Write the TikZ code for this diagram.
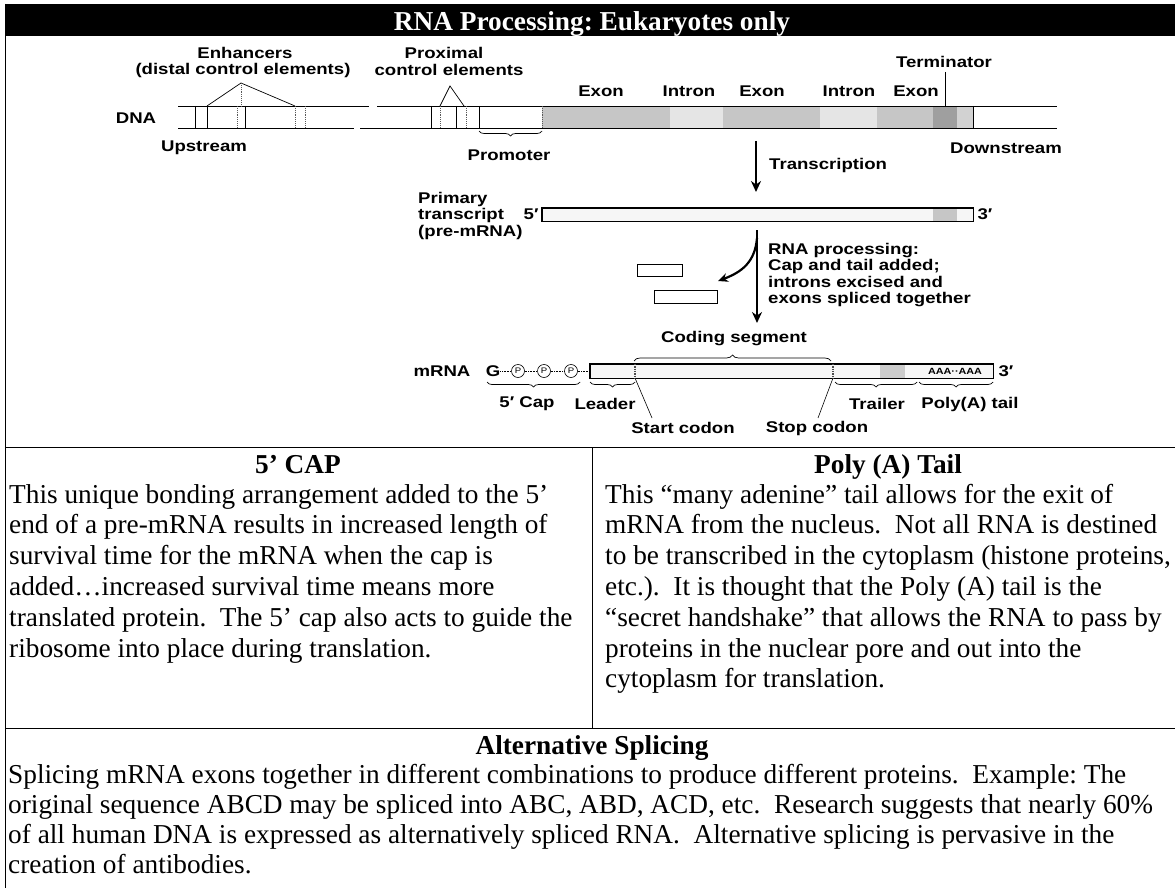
\documentclass[tikz,border=0pt]{standalone}
\usepackage{fontspec}
\setmainfont{Liberation Serif}
\newfontfamily\labfont[FakeStretch=1.2]{Liberation Sans}
\usetikzlibrary{arrows.meta,decorations.pathreplacing,calc}
\frenchspacing
\begin{document}
\begin{tikzpicture}[x=1pt,y=-1pt,
  lab/.style={font=\labfont\bfseries\fontsize{15.5}{16.3}\selectfont, inner sep=0pt},
  small/.style={font=\labfont\bfseries\fontsize{9}{9}\selectfont, inner sep=0pt},
  body/.style={font=\fontsize{27.3}{30}\selectfont, inner sep=0pt, anchor=base west},
  head/.style={font=\bfseries\fontsize{27.3}{30}\selectfont, inner sep=0pt, anchor=base},
  rule/.style={line width=0.8pt},
  dnaline/.style={line width=0.9pt},
  bar/.style={line width=0.7pt},
  dotbar/.style={line width=0.9pt, densely dotted, gray!70!black},
  bigarrow/.style={line width=2.6pt, -{Stealth[length=11pt,width=10pt]}},
  bracedown/.style={decorate, decoration={brace, mirror, amplitude=5pt}, line width=0.7pt},
  braceup/.style={decorate, decoration={brace, amplitude=6pt}, line width=0.7pt},
  pcirc/.style={circle, draw, line width=0.6pt, minimum size=13pt, inner sep=0pt, font=\labfont\fontsize{8}{8}\selectfont},
  piece/.style={draw, line width=0.6pt, inner sep=0pt}
]
\useasboundingbox (0,0) rectangle (1175,888);
\fill[white] (0,0) rectangle (1175,888);

% ---------- header ----------
\fill[black] (5,4) rectangle (1175,36);
\node[head, text=white] (title) at (592,31) {RNA Processing: Eukaryotes only};

% ---------- table rules ----------
\draw[rule] (5,4) -- (5,888);
\draw[rule] (5,447) -- (1175,447);
\draw[rule] (5,728) -- (1175,728);
\draw[rule] (592,447) -- (592,728);

% ---------- DNA ----------
\fill[gray!45] (542,106) rectangle (670,128);
\fill[gray!20] (670,106) rectangle (723,128);
\fill[gray!45] (723,106) rectangle (820,128);
\fill[gray!20] (820,106) rectangle (877,128);
\fill[gray!45] (877,106) rectangle (933,128);
\fill[gray!75] (933,106) rectangle (957,128);
\fill[gray!35] (957,106) rectangle (973,128);
\draw[dnaline] (178,106) -- (369,106) (377,106) -- (1057,106);
\draw[dnaline] (178,128) -- (354,128) (360,128) -- (1057,128);
\draw[bar] (973,106) -- (973,128);
\draw[bar] (195,106) -- (195,128);
\draw[bar] (207,106) -- (207,128);
\draw[dotbar] (237,106) -- (237,128);
\draw[bar] (245,106) -- (245,128);
\draw[dotbar] (295,106) -- (295,128);
\draw[dotbar] (305,106) -- (305,128);
\draw[bar] (431,106) -- (431,128);
\draw[dotbar] (440,106) -- (440,128);
\draw[bar] (456,106) -- (456,128);
\draw[dotbar] (466,106) -- (466,128);
\draw[bar] (479,106) -- (479,128);
\draw[dotbar] (542,106) -- (542,128);

% enhancer / proximal triangles
\draw[line width=0.7pt] (207,106) -- (241,83) -- (295,106);
\draw[dotbar] (241,83) -- (241,106);
\draw[line width=0.7pt] (440,106) -- (450,86) -- (464,106);

% DNA labels
\node[lab] (enh1) at (245,53) {Enhancers};
\node[lab] (enh2) at (243,70) {(distal control elements)};
\node[lab] (prox1) at (444,53) {Proximal};
\node[lab] (prox2) at (449,70) {control elements};
\node[lab] (dna) at (136,118) {DNA};
\node[lab] (up) at (204,148) {Upstream};
\node[lab] (down) at (1006,148) {Downstream};
\node[lab] (prom) at (509,155) {Promoter};
\draw[bracedown] (479,131) -- (542,131);
\node[lab] (term) at (944,62) {Terminator};
\coordinate (termpt) at (945,106);
\draw[line width=0.8pt] (945,72) -- (termpt);
\node[lab] (ex1) at (601,91) {Exon};
\node[lab] (in1) at (689,91) {Intron};
\node[lab] (ex2) at (762,91) {Exon};
\node[lab] (in2) at (849,91) {Intron};
\node[lab] (ex3) at (916,91) {Exon};

% transcription arrow
\coordinate (tA) at (756,141);
\coordinate (tB) at (756,192);
\draw[bigarrow] (tA) -- (tB);
\node[lab, anchor=west] (trans) at (769,165) {Transcription};

% primary transcript
\node[lab, anchor=north west, align=left] (prim) at (418,192) {Primary\\transcript\\(pre-mRNA)};
\node[piece, fill=gray!7, minimum width=431pt, minimum height=13pt] (pre) at (757.5,214.5) {};
\fill[gray!45] (933,208.5) rectangle (957,220.5);
\draw[line width=0.6pt] (pre.north west) rectangle (pre.south east);
\node[lab, anchor=east] (p5) at ($(pre.west)+(-3,0)$) {5′};
\node[lab, anchor=west] (p3) at ($(pre.east)+(4,0)$) {3′};

% RNA processing arrows
\coordinate (pA) at (757,230);
\coordinate (pB) at (757,323);
\draw[bigarrow] (pA) -- (pB);
\coordinate (cA) at (757,238);
\coordinate (cB) at (718,281);
\draw[line width=2.2pt, -{Stealth[length=10pt,width=9pt]}] (cA) .. controls (755,262) and (742,272) .. (cB);
\node[piece, minimum width=45pt, minimum height=12pt] (cut1) at (659.5,270) {};
\node[piece, minimum width=63pt, minimum height=13pt] (cut2) at (685.5,297) {};
\node[lab, anchor=north west, align=left] (proc) at (768,243)
  {RNA processing:\\Cap and tail added;\\introns excised and\\exons spliced together};

% mRNA
\node[lab] (coding) at (734,339) {Coding segment};
\draw[braceup] (634,361) -- (831,361);
\node[piece, fill=gray!7, minimum width=403pt, minimum height=14pt] (mrna) at (791.5,371) {};
\fill[gray!40] (880,364.5) rectangle (905,377.5);
\draw[line width=0.6pt] (mrna.north west) rectangle (mrna.south east);
\draw[line width=1.3pt, densely dotted, gray!60!black] (635,364) -- (635,378);
\draw[line width=1.3pt, densely dotted, gray!60!black] (833,364) -- (833,378);
\node[small] (aaa) at (955,371) {AAA··AAA};
\node[lab] (mlab) at (442,371) {mRNA};
\node[lab] (g) at (493,371) {G};
\node[pcirc] (pp1) at (518,371) {P};
\node[pcirc] (pp2) at (544,371) {P};
\node[pcirc] (pp3) at (571,371) {P};
\draw[line width=0.6pt, densely dotted] (g) -- (pp1) -- (pp2) -- (pp3) -- (mrna);
\node[lab, anchor=west] (m3) at ($(mrna.east)+(5,0)$) {3′};

\draw[bracedown] (487,382) -- (580,382);
\draw[bracedown] (590,382) -- (635,382);
\draw[bracedown] (835,382) -- (917,382);
\draw[bracedown] (919,382) -- (993,382);
\node[lab] (cap) at (527,404) {5′ Cap};
\node[lab] (lead) at (605,404) {Leader};
\node[lab] (trail) at (877,404) {Trailer};
\node[lab] (poly) at (970,404) {Poly(A) tail};
\node[lab] (start) at (683,428) {Start codon};
\node[lab] (stop) at (817,428) {Stop codon};
\coordinate (startA) at (635,378);
\coordinate (startB) at (652,418);
\coordinate (stopA) at (833,378);
\coordinate (stopB) at (818,418);
\draw[line width=0.6pt] (startA) -- (startB);
\draw[line width=0.6pt] (stopA) -- (stopB);

% ---------- middle row ----------
\node[head] (captitle) at (298,473) {5’ CAP};
\foreach \t [count=\i] in {
  {This unique bonding arrangement added to the 5’},
  {end of a pre-mRNA results in increased length of},
  {survival time for the mRNA when the cap is},
  {added…increased survival time means more},
  {translated protein.~ The 5’ cap also acts to guide the},
  {ribosome into place during translation.}}
  \node[body] (capl\i) at (9,{503+(\i-1)*30.8}) {\t};

\node[head] (polytitle) at (888,473) {Poly (A) Tail};
\foreach \t [count=\i] in {
  {This “many adenine” tail allows for the exit of},
  {mRNA from the nucleus.~ Not all RNA is destined},
  {to be transcribed in the cytoplasm (histone proteins,},
  {etc.).~ It is thought that the Poly (A) tail is the},
  {“secret handshake” that allows the RNA to pass by},
  {proteins in the nuclear pore and out into the},
  {cytoplasm for translation.}}
  \node[body] (polyl\i) at (605,{503+(\i-1)*30.8}) {\t};

% ---------- bottom row ----------
\node[head] (alttitle) at (592,754) {Alternative Splicing};
\foreach \t [count=\i] in {
  {Splicing mRNA exons together in different combinations to produce different proteins.~ Example: The},
  {original sequence ABCD may be spliced into ABC, ABD, ACD, etc.~ Research suggests that nearly 60\%},
  {of all human DNA is expressed as alternatively spliced RNA.~ Alternative splicing is pervasive in the},
  {creation of antibodies.}}
  \node[body] (altl\i) at (8,{783+(\i-1)*30.2}) {\t};
\end{tikzpicture}
\end{document}
